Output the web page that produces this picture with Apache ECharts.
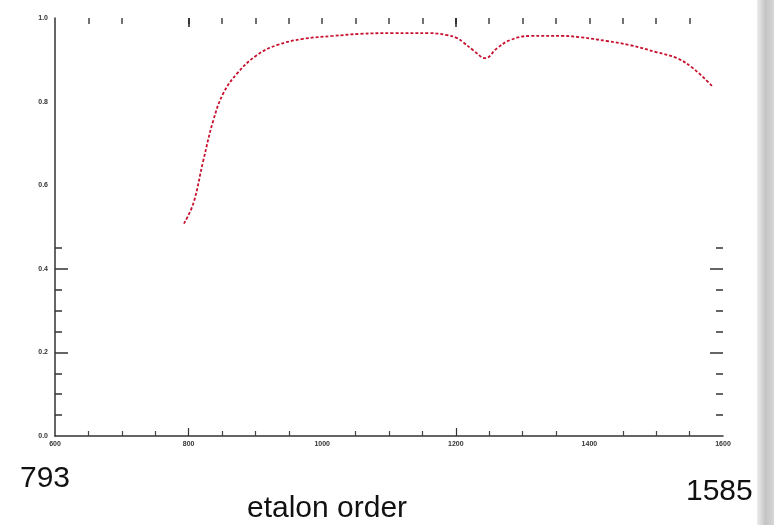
<!DOCTYPE html>
<html>
<head>
<meta charset="utf-8">
<script src="https://cdn.jsdelivr.net/npm/echarts@6/dist/echarts.min.js"></script>
<style>html,body{margin:0;padding:0;background:#fff}#c{width:774px;height:525px}</style>
</head>
<body>
<div id="c"></div>
<script>
// etalon order (x) and transmission (y)
var orders = [793, 807, 822, 837, 852, 873, 902, 932, 971, 1016, 1057, 1106, 1161, 1187, 1202, 1211, 1226, 1244, 1262, 1281, 1311, 1361, 1386, 1426, 1461, 1501, 1531, 1555, 1585];
var values = [0.508, 0.556, 0.659, 0.755, 0.820, 0.868, 0.911, 0.935, 0.950, 0.957, 0.962, 0.964, 0.964, 0.959, 0.952, 0.942, 0.923, 0.904, 0.928, 0.947, 0.957, 0.957, 0.954, 0.945, 0.935, 0.918, 0.904, 0.880, 0.835];
var yMajorTicks = [0.2, 0.4];
var yMinorTicks = [0.05, 0.1, 0.15, 0.25, 0.3, 0.35, 0.45];
var xLongTicks = [800, 1200];
var topTicks = [650, 700, 800, 850, 900, 950, 1000, 1050, 1100, 1150, 1200, 1250, 1300, 1350, 1400, 1450, 1500, 1550];
var topLongTicks = [800, 1200];
var cornerLeft = '793', cornerRight = '1585', xName = 'etalon order';

var chart = echarts.init(document.getElementById('c'), null, {renderer: 'canvas'});
var pts = orders.map(function (o, i) { return [o, values[i]]; });
var lblStyle = {fontSize: 7, color: '#333', fontFamily: 'Liberation Sans', fontWeight: 'bold'};
function hidden(o) {
  return Object.assign({
    type: 'value', min: 600, max: 1600, interval: 200,
    axisLine: {show: false, onZero: false}, axisLabel: {show: false}, splitLine: {show: false}
  }, o);
}
function hiddenY(o) {
  return Object.assign({
    type: 'value', offset: 0, min: 0, max: 1, interval: 0.2,
    axisLine: {show: false, onZero: false}, axisLabel: {show: false}, splitLine: {show: false}
  }, o);
}
chart.setOption({
  animation: false,
  grid: {left: 55, right: 51, top: 18, bottom: 89},
  xAxis: [{
    type: 'value', position: 'bottom', min: 600, max: 1600, interval: 200,
    axisLine: {show: true, onZero: false, lineStyle: {color: '#333', width: 1.5}},
    axisTick: {show: true, inside: true, length: 8, customValues: xLongTicks, lineStyle: {color: '#333', width: 1.2}},
    minorTick: {show: true, splitNumber: 4, length: 5, lineStyle: {color: '#444', width: 1.2}},
    axisLabel: Object.assign({margin: 5, formatter: function (v) { return String(v); }}, lblStyle),
    splitLine: {show: false}
  },
  hidden({position: 'top', offset: 0,
    axisTick: {show: true, inside: true, length: 6, customValues: topTicks, lineStyle: {color: '#444', width: 1.5}}}),
  hidden({position: 'top', offset: 0,
    axisTick: {show: true, inside: true, length: 9, customValues: topLongTicks, lineStyle: {color: '#222', width: 1.5}}})
  ],
  yAxis: [{
    type: 'value', position: 'left', min: 0, max: 1, interval: 0.2,
    axisLine: {show: true, onZero: false, lineStyle: {color: '#333', width: 1.5}},
    axisTick: {show: true, inside: true, length: 13, customValues: yMajorTicks, lineStyle: {color: '#333', width: 1.5}},
    axisLabel: Object.assign({margin: 7, formatter: function (v) { return v.toFixed(1); }}, lblStyle),
    splitLine: {show: false}
  },
  hiddenY({position: 'left',
    axisTick: {show: true, inside: true, length: 7, customValues: yMinorTicks, lineStyle: {color: '#333', width: 1.5}}}),
  hiddenY({position: 'right',
    axisTick: {show: true, inside: true, length: 13, customValues: yMajorTicks, lineStyle: {color: '#333', width: 1.5}}}),
  hiddenY({position: 'right',
    axisTick: {show: true, inside: true, length: 7, customValues: yMinorTicks, lineStyle: {color: '#333', width: 1.5}}})
  ],
  series: [{
    type: 'line', xAxisIndex: 0, yAxisIndex: 0, data: pts, smooth: 0.4, showSymbol: false,
    lineStyle: {color: '#c8102e', width: 1.8, type: [3, 2]}
  }],
  graphic: [
    {type: 'rect', left: 757, top: 0, shape: {width: 17, height: 525}, silent: true,
     style: {fill: new echarts.graphic.LinearGradient(0, 0, 1, 0, [
       {offset: 0, color: '#ececec'}, {offset: 0.5, color: '#c4c4c4'}, {offset: 1, color: '#d6d6d6'}])}},
    {type: 'text', x: 20, y: 464, style: {text: cornerLeft, font: '30px "Liberation Sans"', fill: '#111'}},
    {type: 'text', x: 686, y: 477, style: {text: cornerRight, font: '30px "Liberation Sans"', fill: '#111'}},
    {type: 'text', x: 247, y: 494, style: {text: xName, font: '30px "Liberation Sans"', fill: '#111'}}
  ]
});
</script>
</body>
</html>
